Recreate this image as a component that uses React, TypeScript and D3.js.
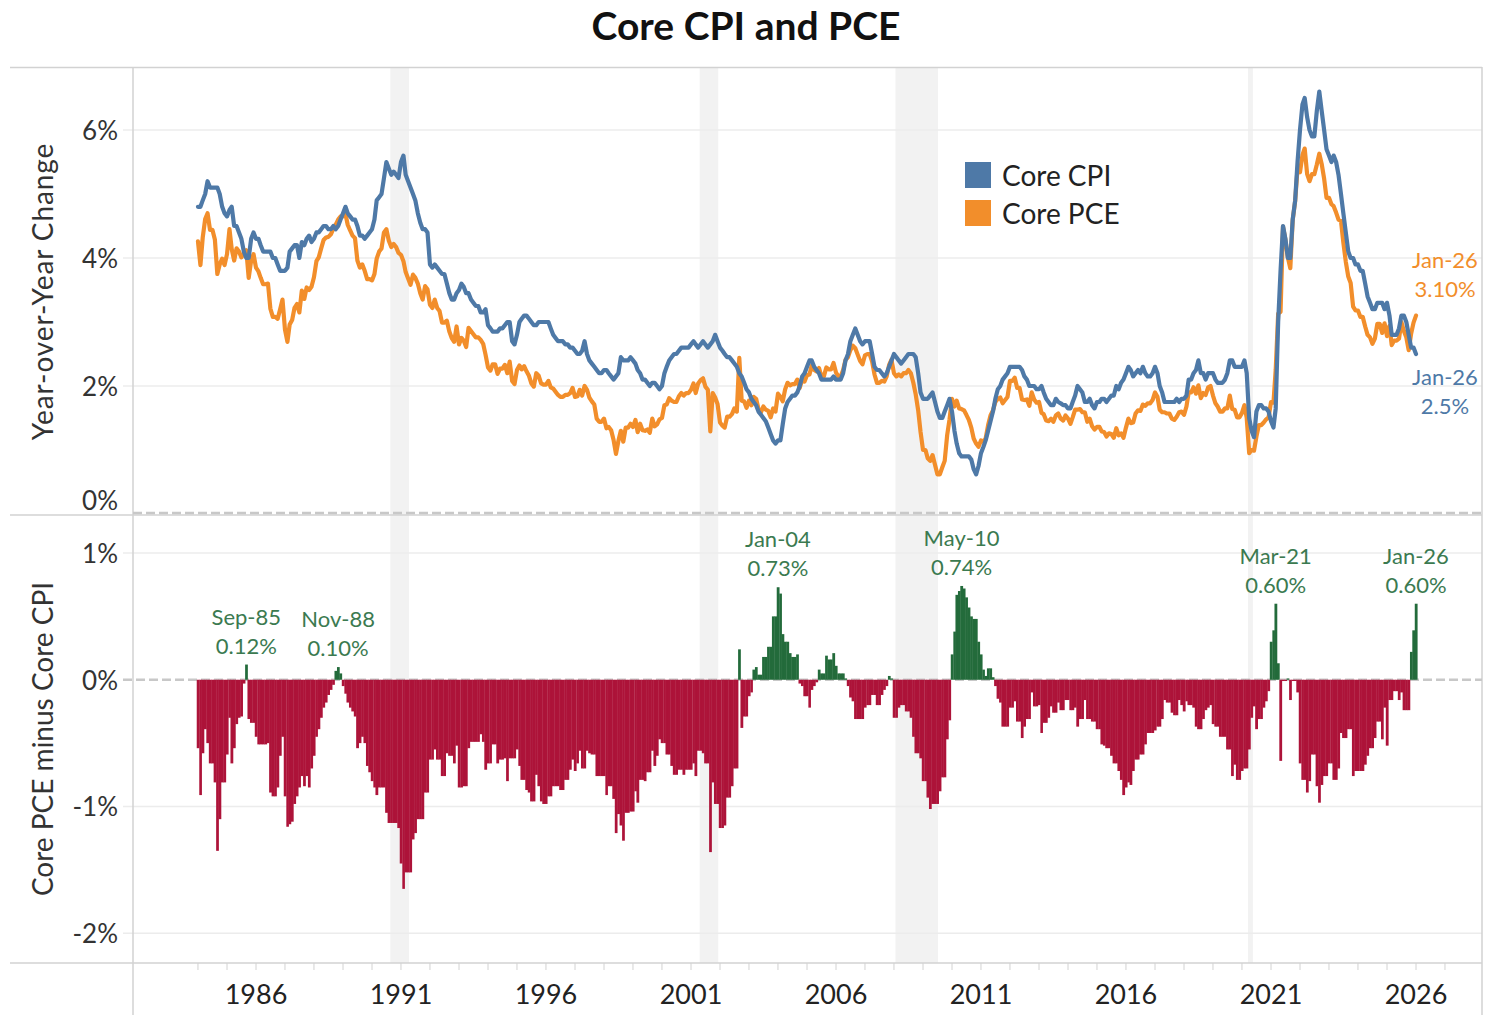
import React from "react";
import * as d3 from "d3";

// ---------------- DATA ----------------
const START_YEAR = 1984; // first month = Jan 1984, monthly through Jan 2026
const seriesNames = ["Core CPI", "Core PCE"];

// Core CPI, year-over-year % change (monthly)
const coreCpiYoY: number[] = [
  /* 1984 */ 4.8, 4.8, 4.9, 5.0, 5.2, 5.1, 5.1, 5.1, 5.1, 5.0, 4.8, 4.7,
  /* 1985 */ 4.65, 4.75, 4.8, 4.5, 4.5, 4.4, 4.3, 4.1, 4.0, 4.0, 4.3, 4.4,
  /* 1986 */ 4.3, 4.3, 4.2, 4.1, 4.1, 4.1, 4.1, 4.0, 4.0, 3.9, 3.8, 3.8,
  /* 1987 */ 3.8, 3.85, 4.1, 4.15, 4.2, 4.2, 4.0, 4.25, 4.2, 4.3, 4.35, 4.25,
  /* 1988 */ 4.3, 4.4, 4.4, 4.45, 4.5, 4.5, 4.45, 4.45, 4.5, 4.45, 4.5, 4.6,
  /* 1989 */ 4.7, 4.8, 4.7, 4.65, 4.6, 4.6, 4.5, 4.35, 4.35, 4.3, 4.35, 4.4,
  /* 1990 */ 4.45, 4.6, 4.9, 4.95, 5.0, 5.25, 5.5, 5.4, 5.3, 5.35, 5.3, 5.25,
  /* 1991 */ 5.5, 5.6, 5.3, 5.2, 5.1, 5.0, 4.9, 4.7, 4.55, 4.45, 4.45, 4.4,
  /* 1992 */ 3.9, 3.85, 3.9, 3.85, 3.8, 3.75, 3.75, 3.6, 3.45, 3.35, 3.35, 3.45,
  /* 1993 */ 3.5, 3.6, 3.55, 3.45, 3.45, 3.35, 3.3, 3.25, 3.25, 3.15, 3.15, 3.2,
  /* 1994 */ 2.95, 2.9, 2.85, 2.85, 2.85, 2.9, 2.9, 2.95, 3.0, 3.0, 2.7, 2.65,
  /* 1995 */ 2.8, 3.0, 3.05, 3.1, 3.1, 3.05, 3.0, 2.95, 2.95, 3.0, 3.0, 3.0,
  /* 1996 */ 3.0, 3.0, 2.9, 2.8, 2.75, 2.7, 2.7, 2.7, 2.65, 2.65, 2.6, 2.6,
  /* 1997 */ 2.55, 2.5, 2.5, 2.55, 2.7, 2.5, 2.4, 2.35, 2.3, 2.25, 2.2, 2.2,
  /* 1998 */ 2.25, 2.25, 2.2, 2.15, 2.1, 2.15, 2.2, 2.45, 2.4, 2.4, 2.4, 2.45,
  /* 1999 */ 2.4, 2.35, 2.25, 2.2, 2.1, 2.1, 2.05, 2.0, 2.05, 2.05, 2.0, 1.95,
  /* 2000 */ 2.0, 2.2, 2.3, 2.4, 2.45, 2.5, 2.5, 2.55, 2.6, 2.6, 2.6, 2.6,
  /* 2001 */ 2.65, 2.7, 2.65, 2.6, 2.65, 2.7, 2.65, 2.6, 2.65, 2.7, 2.8, 2.7,
  /* 2002 */ 2.6, 2.55, 2.5, 2.45, 2.45, 2.4, 2.35, 2.3, 2.2, 2.15, 2.05, 1.95,
  /* 2003 */ 1.9, 1.8, 1.75, 1.7, 1.6, 1.55, 1.5, 1.45, 1.35, 1.25, 1.15, 1.1,
  /* 2004 */ 1.15, 1.15, 1.4, 1.65, 1.75, 1.8, 1.85, 1.85, 1.9, 2.0, 2.15, 2.2,
  /* 2005 */ 2.3, 2.4, 2.4, 2.3, 2.25, 2.2, 2.1, 2.1, 2.1, 2.1, 2.1, 2.15,
  /* 2006 */ 2.1, 2.1, 2.1, 2.2, 2.4, 2.5, 2.7, 2.8, 2.9, 2.8, 2.7, 2.65,
  /* 2007 */ 2.7, 2.7, 2.7, 2.5, 2.3, 2.25, 2.25, 2.2, 2.15, 2.2, 2.3, 2.4,
  /* 2008 */ 2.5, 2.45, 2.4, 2.35, 2.4, 2.45, 2.5, 2.5, 2.5, 2.45, 2.2, 1.9,
  /* 2009 */ 1.8, 1.8, 1.8, 1.85, 1.9, 1.75, 1.6, 1.5, 1.5, 1.6, 1.7, 1.8,
  /* 2010 */ 1.6, 1.3, 1.1, 0.95, 0.9, 0.9, 0.9, 0.9, 0.85, 0.7, 0.62, 0.75,
  /* 2011 */ 0.95, 1.05, 1.15, 1.3, 1.45, 1.6, 1.8, 1.95, 2.0, 2.1, 2.15, 2.2,
  /* 2012 */ 2.3, 2.3, 2.3, 2.3, 2.3, 2.25, 2.15, 2.1, 2.0, 2.0, 2.0, 1.95,
  /* 2013 */ 1.95, 2.0, 1.9, 1.8, 1.75, 1.7, 1.7, 1.8, 1.75, 1.73, 1.7, 1.7,
  /* 2014 */ 1.65, 1.65, 1.75, 1.85, 2.0, 1.95, 1.9, 1.75, 1.75, 1.8, 1.7, 1.65,
  /* 2015 */ 1.75, 1.75, 1.8, 1.8, 1.75, 1.8, 1.85, 1.85, 2.0, 1.95, 2.05, 2.1,
  /* 2016 */ 2.2, 2.3, 2.25, 2.15, 2.2, 2.25, 2.2, 2.3, 2.2, 2.15, 2.15, 2.2,
  /* 2017 */ 2.3, 2.2, 2.0, 1.9, 1.75, 1.75, 1.75, 1.75, 1.75, 1.8, 1.75, 1.8,
  /* 2018 */ 1.8, 1.85, 2.1, 2.1, 2.2, 2.25, 2.4, 2.2, 2.2, 2.1, 2.2, 2.2,
  /* 2019 */ 2.2, 2.1, 2.05, 2.05, 2.05, 2.1, 2.2, 2.4, 2.4, 2.3, 2.3, 2.3,
  /* 2020 */ 2.3, 2.4, 2.2, 1.5, 1.3, 1.2, 1.6, 1.7, 1.7, 1.65, 1.65, 1.6,
  /* 2021 */ 1.45, 1.35, 1.65, 3.0, 3.8, 4.5, 4.3, 4.0, 4.0, 4.6, 4.9, 5.5,
  /* 2022 */ 6.0, 6.4, 6.5, 6.2, 6.0, 5.9, 5.9, 6.3, 6.6, 6.3, 6.0, 5.7,
  /* 2023 */ 5.6, 5.5, 5.6, 5.5, 5.3, 5.0, 4.7, 4.4, 4.1, 4.0, 4.0, 3.9,
  /* 2024 */ 3.9, 3.8, 3.8, 3.6, 3.4, 3.3, 3.2, 3.2, 3.3, 3.3, 3.3, 3.2,
  /* 2025 */ 3.3, 3.1, 2.8, 2.8, 2.8, 2.9, 3.1, 3.1, 3.0, 2.8, 2.6, 2.6,
  /* 2026 */ 2.5,
];

// Core PCE minus Core CPI, percentage points (monthly)
const pceMinusCpi: number[] = [
  /* 1984 */ -0.54, -0.91, -0.58, -0.39, -0.5, -0.66, -0.66, -0.81, -1.35, -1.1, -0.81, -0.81,
  /* 1985 */ -0.59, -0.3, -0.66, -0.54, -0.35, -0.3, -0.29, -0.03, 0.12, -0.31, -0.34, -0.34,
  /* 1986 */ -0.45, -0.51, -0.51, -0.51, -0.51, -0.5, -0.89, -0.92, -0.92, -0.85, -0.6, -0.45,
  /* 1987 */ -0.92, -1.16, -1.14, -1.12, -0.98, -0.92, -0.85, -0.76, -0.84, -0.76, -0.85, -0.7,
  /* 1988 */ -0.6, -0.45, -0.39, -0.3, -0.22, -0.18, -0.12, -0.08, -0.04, 0.07, 0.1, 0.05,
  /* 1989 */ -0.05, -0.11, -0.18, -0.22, -0.25, -0.29, -0.54, -0.5, -0.45, -0.5, -0.68, -0.73,
  /* 1990 */ -0.8, -0.85, -0.91, -0.85, -0.85, -0.85, -1.05, -1.13, -1.13, -1.13, -1.13, -1.17,
  /* 1991 */ -1.45, -1.65, -1.52, -1.52, -1.52, -1.26, -1.21, -1.1, -1.1, -1.1, -0.89, -0.89,
  /* 1992 */ -0.63, -0.63, -0.55, -0.63, -0.63, -0.76, -0.76, -0.58, -0.6, -0.6, -0.66, -0.52,
  /* 1993 */ -0.85, -0.85, -0.84, -0.84, -0.54, -0.49, -0.49, -0.49, -0.49, -0.43, -0.49, -0.71,
  /* 1994 */ -0.66, -0.66, -0.51, -0.51, -0.66, -0.63, -0.63, -0.62, -0.8, -0.62, -0.62, -0.62,
  /* 1995 */ -0.55, -0.68, -0.79, -0.79, -0.87, -0.89, -0.96, -0.96, -0.75, -0.84, -0.96, -0.98,
  /* 1996 */ -0.98, -0.92, -0.92, -0.84, -0.84, -0.84, -0.87, -0.87, -0.79, -0.79, -0.71, -0.63,
  /* 1997 */ -0.72, -0.66, -0.56, -0.7, -0.7, -0.56, -0.58, -0.59, -0.59, -0.76, -0.76, -0.76,
  /* 1998 */ -0.76, -0.91, -0.84, -0.84, -0.94, -1.21, -1.06, -1.15, -1.27, -1.05, -1.05, -1.04,
  /* 1999 */ -1.04, -0.88, -0.97, -0.79, -0.79, -0.8, -0.73, -0.73, -0.56, -0.68, -0.6, -0.47,
  /* 2000 */ -0.5, -0.5, -0.59, -0.59, -0.68, -0.75, -0.75, -0.71, -0.71, -0.75, -0.71, -0.71,
  /* 2001 */ -0.71, -0.66, -0.76, -0.56, -0.56, -0.58, -0.66, -0.66, -1.36, -0.81, -0.98, -0.98,
  /* 2002 */ -1.17, -1.17, -1.15, -0.93, -0.93, -0.84, -0.7, -0.7, 0.24, -0.38, -0.29, -0.29,
  /* 2003 */ -0.13, -0.1, 0.08, 0.1, 0.04, 0.04, 0.18, 0.18, 0.26, 0.26, 0.5, 0.5,
  /* 2004 */ 0.73, 0.68, 0.36, 0.3, 0.3, 0.21, 0.18, 0.18, 0.2, -0.03, -0.05, -0.13,
  /* 2005 */ -0.13, -0.22, -0.08, -0.05, -0.02, 0.08, 0.05, 0.05, 0.19, 0.16, 0.16, 0.21,
  /* 2006 */ 0.11, 0.05, 0.05, 0.05, 0.01, -0.05, -0.14, -0.17, -0.31, -0.31, -0.31, -0.31,
  /* 2007 */ -0.22, -0.2, -0.2, -0.12, -0.12, -0.2, -0.2, -0.12, -0.08, -0.05, 0.03, 0.01,
  /* 2008 */ -0.3, -0.3, -0.22, -0.2, -0.2, -0.25, -0.25, -0.3, -0.45, -0.58, -0.58, -0.62,
  /* 2009 */ -0.8, -0.8, -0.93, -1.02, -0.98, -0.98, -0.98, -0.88, -0.77, -0.77, -0.47, -0.32,
  /* 2010 */ 0.2, 0.38, 0.67, 0.7, 0.74, 0.72, 0.65, 0.57, 0.5, 0.48, 0.48, 0.3,
  /* 2011 */ 0.2, 0.08, 0.03, 0.09, 0.09, 0.02, -0.05, -0.15, -0.18, -0.37, -0.37, -0.37,
  /* 2012 */ -0.22, -0.22, -0.17, -0.33, -0.33, -0.46, -0.37, -0.31, -0.31, -0.1, -0.21, -0.21,
  /* 2013 */ -0.2, -0.42, -0.34, -0.34, -0.3, -0.21, -0.26, -0.26, -0.18, -0.24, -0.24, -0.16,
  /* 2014 */ -0.16, -0.24, -0.24, -0.22, -0.37, -0.31, -0.31, -0.16, -0.31, -0.31, -0.33, -0.33,
  /* 2015 */ -0.39, -0.39, -0.51, -0.52, -0.54, -0.54, -0.6, -0.66, -0.66, -0.72, -0.79, -0.91,
  /* 2016 */ -0.85, -0.81, -0.83, -0.72, -0.63, -0.63, -0.59, -0.59, -0.51, -0.42, -0.42, -0.42,
  /* 2017 */ -0.4, -0.37, -0.37, -0.31, -0.16, -0.18, -0.18, -0.26, -0.28, -0.28, -0.16, -0.2,
  /* 2018 */ -0.25, -0.17, -0.2, -0.2, -0.22, -0.37, -0.39, -0.39, -0.31, -0.24, -0.22, -0.2,
  /* 2019 */ -0.35, -0.37, -0.37, -0.45, -0.45, -0.45, -0.55, -0.55, -0.76, -0.67, -0.79, -0.79,
  /* 2020 */ -0.72, -0.7, -0.7, -0.55, -0.3, -0.21, -0.39, -0.31, -0.31, -0.22, -0.17, -0.09,
  /* 2021 */ 0.3, 0.39, 0.6, 0.13, -0.64, -0.01, -0.01, 0.01, -0.16, -0.01, -0.01, -0.1,
  /* 2022 */ -0.66, -0.79, -0.79, -0.89, -0.8, -0.59, -0.59, -0.84, -0.97, -0.83, -0.76, -0.76,
  /* 2023 */ -0.66, -0.66, -0.79, -0.79, -0.7, -0.42, -0.46, -0.46, -0.39, -0.39, -0.76, -0.72,
  /* 2024 */ -0.72, -0.72, -0.72, -0.67, -0.6, -0.54, -0.54, -0.46, -0.33, -0.33, -0.47, -0.22,
  /* 2025 */ -0.52, -0.16, -0.16, -0.09, -0.09, -0.16, -0.1, -0.24, -0.24, -0.24, 0.22, 0.39,
  /* 2026 */ 0.6,
];

// Shaded recession periods
const recessionBands = [
  { start: "1990-08-20", end: "1991-04-12" },
  { start: "2001-04-20", end: "2001-12-10" },
  { start: "2008-01-20", end: "2009-07-08" },
  { start: "2020-03-18", end: "2020-05-18" },
];

const topTicks = [0, 2, 4, 6];
const bottomTicks = [1, 0, -1, -2];
const xLabelYears = [1986, 1991, 1996, 2001, 2006, 2011, 2016, 2021, 2026];
const annotatedMonths = ["1985-09", "1988-11", "2004-01", "2010-05", "2021-03", "2026-01"];

// ---------------- STYLE ----------------
const COLORS = {
  cpi: "#4e79a7",
  pce: "#f28e2b",
  pos: "#236b3b",
  neg: "#ad1339",
  posText: "#3b7a50",
  grid: "#ececec",
  frame: "#d2d2d2",
  band: "#f2f2f2",
  text: "#333333",
};
const FONT = "Lato, 'Open Sans', 'DejaVu Sans', sans-serif";

export default function App() {
  const W = 1496;
  const H = 1015;
  const L = 133;
  const R = 1482;
  const T = 68;
  const MID = 515;
  const B = 963;

  const rows = coreCpiYoY.map((cpi, i) => {
    const gap = pceMinusCpi[i];
    return {
      date: new Date(START_YEAR, i, 1),
      next: new Date(START_YEAR, i + 1, 1),
      cpi,
      gap,
      pce: Math.round((cpi + gap) * 100) / 100,
    };
  });

  const x = d3
    .scaleTime()
    .domain([new Date(1986, 0, 1), new Date(2026, 0, 1)])
    .range([256, 1416]);
  const yTop = d3.scaleLinear().domain([0, 7]).range([514, 66]);
  const yBot = d3.scaleLinear().domain([-2.235, 1.3]).range([B, MID]);

  const lineGen = (key: "cpi" | "pce") =>
    d3
      .line<any>()
      .x((d) => x(d.date))
      .y((d) => yTop(d[key]))(rows) || "";

  const monthFmt = d3.timeFormat("%b-%y");
  const parseMonth = d3.timeParse("%Y-%m");
  const parseDay = d3.timeParse("%Y-%m-%d");

  const last = rows[rows.length - 1];
  const xLast = x(last.date);

  const yearTicks = d3.range(1984, 2028).map((yr) => x(new Date(yr, 0, 1))).filter((v) => v > L && v < R);

  const annotations = annotatedMonths.map((m) => {
    const d = parseMonth(m) as Date;
    const idx = (d.getFullYear() - START_YEAR) * 12 + d.getMonth();
    return rows[idx];
  });

  return (
    <svg
      width={W}
      height={H}
      style={{ position: "absolute", left: 0, top: 0, background: "#fff" }}
      fontFamily={FONT}
    >
      <rect x={0} y={0} width={W} height={H} fill="#fff" />

      {/* Title */}
      <text x={746} y={40} textAnchor="middle" fontSize={39} fontWeight={700} fill="#111">
        Core CPI and PCE
      </text>

      {/* Recession bands */}
      {recessionBands.map((b, i) => {
        const x0 = x(parseDay(b.start) as Date);
        const x1 = x(parseDay(b.end) as Date);
        return <rect key={i} x={x0} y={T} width={x1 - x0} height={B - T} fill={COLORS.band} />;
      })}

      {/* Grid lines */}
      {topTicks
        .filter((v) => v !== 0)
        .map((v) => (
          <line key={"gt" + v} x1={123} x2={R} y1={yTop(v)} y2={yTop(v)} stroke={COLORS.grid} strokeWidth={1.5} />
        ))}
      {bottomTicks
        .filter((v) => v !== 0)
        .map((v) => (
          <line key={"gb" + v} x1={123} x2={R} y1={yBot(v)} y2={yBot(v)} stroke={COLORS.grid} strokeWidth={1.5} />
        ))}

      {/* Frame */}
      <line x1={10} x2={R} y1={T - 0.5} y2={T - 0.5} stroke={COLORS.frame} strokeWidth={1.5} />
      <line x1={10} x2={R} y1={MID} y2={MID} stroke={COLORS.frame} strokeWidth={1.5} />
      <line x1={10} x2={R} y1={B} y2={B} stroke={COLORS.frame} strokeWidth={1.5} />
      <line x1={L} x2={L} y1={T - 1} y2={H} stroke={COLORS.frame} strokeWidth={1.5} />
      <line x1={R} x2={R} y1={T - 1} y2={H} stroke={COLORS.frame} strokeWidth={1.5} />

      {/* Year ticks */}
      {yearTicks.map((v, i) => (
        <line key={"yt" + i} x1={v} x2={v} y1={B} y2={B + 7} stroke={COLORS.frame} strokeWidth={1} />
      ))}

      {/* Zero lines */}
      <line x1={L} x2={R} y1={yTop(0) - 1} y2={yTop(0) - 1} stroke="#c8c8c8" strokeWidth={2.5} strokeDasharray="9,4" />
      <line x1={123} x2={R} y1={yBot(0)} y2={yBot(0)} stroke="#c8c8c8" strokeWidth={2.5} strokeDasharray="9,4" />

      {/* Bars: Core PCE minus Core CPI */}
      {rows.map((d, i) => {
        const x0 = x(d.date);
        const w = x(d.next) - x0;
        const y0 = yBot(0);
        const y1 = yBot(d.gap);
        return (
          <rect
            key={"b" + i}
            x={x0 - w / 2}
            y={Math.min(y0, y1)}
            width={w + 0.35}
            height={Math.abs(y1 - y0)}
            fill={d.gap >= 0 ? COLORS.pos : COLORS.neg}
          />
        );
      })}

      {/* Lines */}
      <path d={lineGen("pce")} fill="none" stroke={COLORS.pce} strokeWidth={4.2} strokeLinejoin="round" strokeLinecap="round" />
      <path d={lineGen("cpi")} fill="none" stroke={COLORS.cpi} strokeWidth={4.2} strokeLinejoin="round" strokeLinecap="round" />

      {/* Y tick labels */}
      {topTicks.map((v) => (
        <text
          key={"lt" + v}
          x={118}
          y={Math.min(yTop(v), 500)}
          textAnchor="end"
          dominantBaseline="central"
          fontSize={26}
          fill={COLORS.text}
        >
          {d3.format(".0f")(v) + "%"}
        </text>
      ))}
      {bottomTicks.map((v) => (
        <text
          key={"lb" + v}
          x={118}
          y={yBot(v)}
          textAnchor="end"
          dominantBaseline="central"
          fontSize={26}
          fill={COLORS.text}
        >
          {String(v) + "%"}
        </text>
      ))}

      {/* X labels */}
      {xLabelYears.map((yr) => (
        <text key={"xl" + yr} x={x(new Date(yr, 0, 1))} y={1004} textAnchor="middle" fontSize={27} fill="#222">
          {yr}
        </text>
      ))}

      {/* Axis titles */}
      <text
        transform={`translate(42, ${(T + MID) / 2}) rotate(-90)`}
        textAnchor="middle"
        dominantBaseline="central"
        fontSize={28}
        letterSpacing={0.9}
        fill={COLORS.text}
      >
        Year-over-Year Change
      </text>
      <text
        transform={`translate(42, ${(MID + B) / 2}) rotate(-90)`}
        textAnchor="middle"
        dominantBaseline="central"
        fontSize={28}
        fill={COLORS.text}
      >
        Core PCE minus Core CPI
      </text>

      {/* Legend */}
      {seriesNames.map((name, i) => (
        <g key={name} transform={`translate(965, ${162 + i * 38})`}>
          <rect x={0} y={0} width={26} height={26} fill={i === 0 ? COLORS.cpi : COLORS.pce} />
          <text x={37} y={24} fontSize={28} fill="#222">
            {name}
          </text>
        </g>
      ))}

      {/* End labels */}
      <g fontSize={22} textAnchor="middle">
        <text x={xLast + 29} y={yTop(last.pce) - 48} fill={COLORS.pce}>
          {monthFmt(last.date)}
        </text>
        <text x={xLast + 29} y={yTop(last.pce) - 19} fill={COLORS.pce}>
          {d3.format(".2f")(last.pce) + "%"}
        </text>
        <text x={xLast + 29} y={yTop(last.cpi) + 31} fill={COLORS.cpi}>
          {monthFmt(last.date)}
        </text>
        <text x={xLast + 29} y={yTop(last.cpi) + 60} fill={COLORS.cpi}>
          {d3.format(".1f")(last.cpi) + "%"}
        </text>
      </g>

      {/* Positive-gap annotations */}
      {annotations.map((d, i) => {
        const top = yBot(d.gap);
        const cx = x(d.date);
        return (
          <g key={"an" + i} fontSize={22} textAnchor="middle" fill={COLORS.posText}>
            <text x={cx} y={top - 40}>
              {monthFmt(d.date)}
            </text>
            <text x={cx} y={top - 11}>
              {d3.format(".2f")(d.gap) + "%"}
            </text>
          </g>
        );
      })}
    </svg>
  );
}
